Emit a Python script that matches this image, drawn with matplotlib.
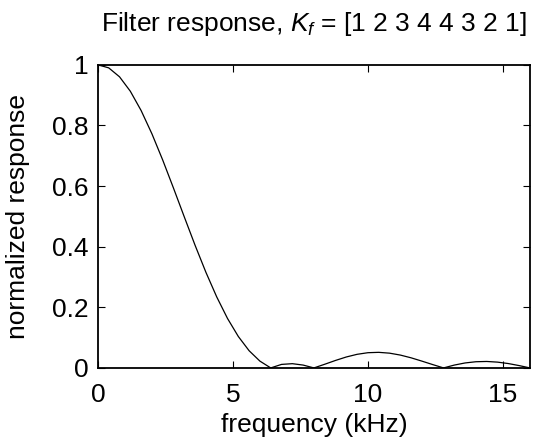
import matplotlib
matplotlib.use("Agg")
import matplotlib.pyplot as plt

plt.rcParams['font.family'] = ['Liberation Sans', 'DejaVu Sans']
plt.rcParams['mathtext.fontset'] = 'custom'
plt.rcParams['mathtext.rm'] = 'Liberation Sans'
plt.rcParams['mathtext.it'] = 'Liberation Sans:italic'

# frequency (kHz), every 0.4 kHz
freq_khz = [0.0, 0.4, 0.8, 1.2, 1.6, 2.0, 2.4, 2.8, 3.2, 3.6,
            4.0, 4.4, 4.8, 5.2, 5.6, 6.0, 6.4, 6.8, 7.2, 7.6,
            8.0, 8.4, 8.8, 9.2, 9.6, 10.0, 10.4, 10.8, 11.2, 11.6,
            12.0, 12.4, 12.8, 13.2, 13.6, 14.0, 14.4, 14.8, 15.2, 15.6,
            16.0]
response = [1.0, 0.990, 0.9605, 0.9129, 0.8492, 0.7724, 0.6858, 0.5930, 0.4980, 0.4043,
            0.3154, 0.2343, 0.1631, 0.1037, 0.0567, 0.0224, 0.0, 0.0116, 0.0140, 0.0094,
            0.0, 0.0121, 0.0247, 0.0361, 0.0449, 0.0502, 0.0514, 0.0487, 0.0424, 0.0333,
            0.0224, 0.0110, 0.0, 0.0094, 0.0164, 0.0204, 0.0213, 0.0191, 0.0144, 0.0077,
            0.0]

xticks = [0, 5, 10, 15]
yticks = [0, 0.2, 0.4, 0.6, 0.8, 1]
ytick_labels = ['0', '0.2', '0.4', '0.6', '0.8', '1']

fig = plt.figure(figsize=(5.38, 4.38), dpi=100)
ax = fig.add_axes([0.182, 0.160, 0.803, 0.692])

ax.plot(freq_khz, response, color='black', linewidth=0.9)

ax.set_xlim(0, 16)
ax.set_ylim(0, 1)
ax.set_xticks(xticks)
ax.set_yticks(yticks)
ax.set_yticklabels(ytick_labels)
ax.tick_params(direction='in', top=True, right=True, length=5, width=0.8,
               labelsize=19)
ax.tick_params(axis='x', pad=11)
ax.tick_params(axis='y', pad=6.5)
for s in ax.spines.values():
    s.set_linewidth(1.3)

ax.set_xlabel('frequency (kHz)', fontsize=19, labelpad=4.5)
ax.set_ylabel('normalized response', fontsize=19, labelpad=16)
ax.set_title(r'Filter response, $K_f$ = [1 2 3 4 4 3 2 1]', fontsize=19, pad=24)

fig.savefig('out.png', dpi=100)
